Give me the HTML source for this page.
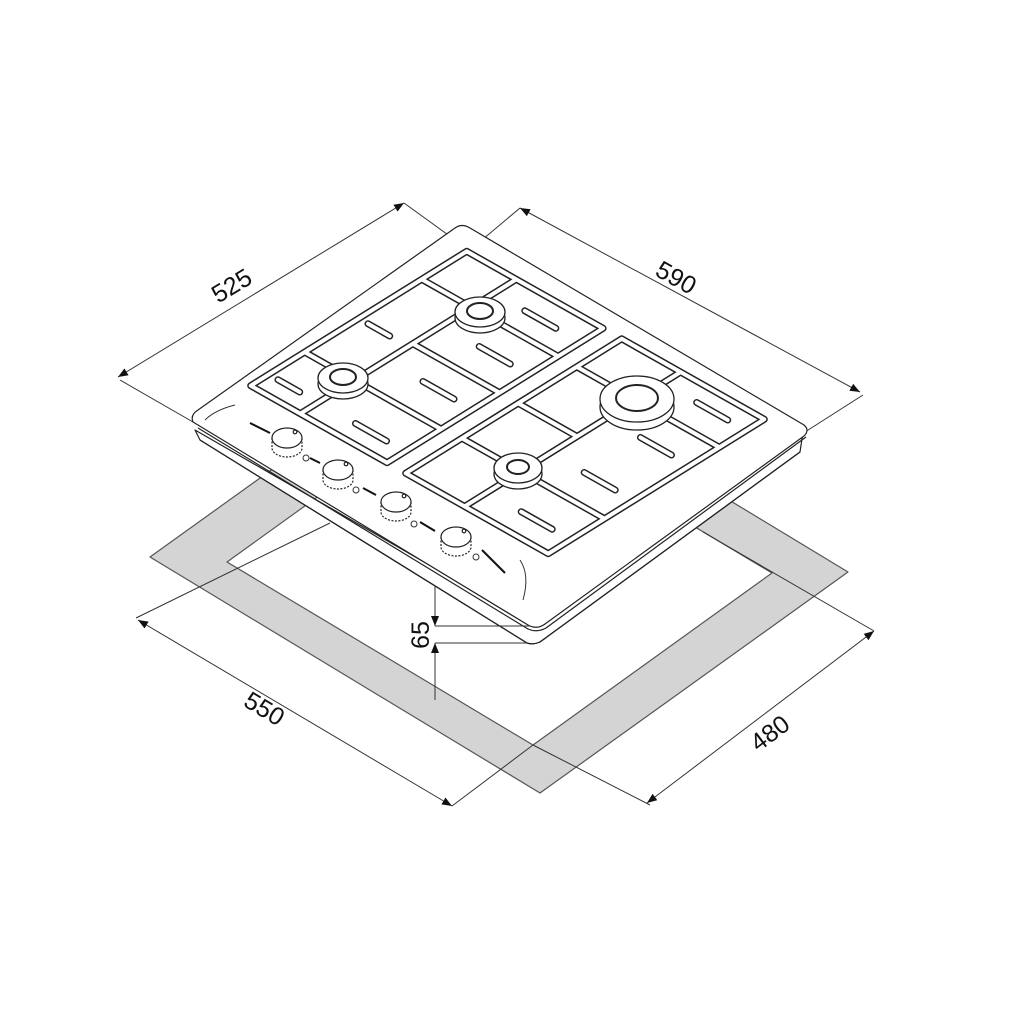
<!DOCTYPE html>
<html><head><meta charset="utf-8"><style>html,body{margin:0;padding:0;background:#fff}svg{display:block}</style></head>
<body>
<svg width="1024" height="1024" viewBox="0 0 1024 1024" xmlns="http://www.w3.org/2000/svg" font-family="Liberation Sans, Arial, sans-serif">
<defs>
<marker id="ar" viewBox="0 0 10 10" refX="10" refY="5" markerWidth="10" markerHeight="10" markerUnits="userSpaceOnUse" orient="auto-start-reverse"><path d="M0,1 L10,5 L0,9 z" fill="#111"/></marker>
</defs>
<rect width="1024" height="1024" fill="#fff"/>

<!-- cutout frame -->
<path fill-rule="evenodd" fill="#d4d4d4" stroke="#555" stroke-width="1.2" stroke-linejoin="round"
 d="M150,557 L458,336 L848,572 L540,793 Z M227,562 L466,390 L772,573 L533,745 Z"/>

<!-- dimension & extension lines -->
<g stroke="#333" stroke-width="1" fill="none">
 <line x1="118" y1="377" x2="404" y2="203" marker-start="url(#ar)" marker-end="url(#ar)"/>
 <line x1="520" y1="208" x2="860" y2="392" marker-start="url(#ar)" marker-end="url(#ar)"/>
 <line x1="138" y1="620" x2="452" y2="806" marker-start="url(#ar)" marker-end="url(#ar)"/>
 <line x1="647" y1="803" x2="874" y2="631" marker-start="url(#ar)" marker-end="url(#ar)"/>
 <line x1="404" y1="203" x2="480" y2="258"/>
 <line x1="520" y1="208" x2="470" y2="250"/>
 <line x1="120" y1="380" x2="193" y2="422"/>
 <line x1="805" y1="432" x2="863" y2="395"/>
 <line x1="136" y1="618" x2="330" y2="523"/>
 <line x1="452" y1="806" x2="533" y2="745"/>
 <line x1="533" y1="745" x2="650" y2="805"/>
 <line x1="703" y1="532" x2="874" y2="631"/>
 <line x1="435" y1="567" x2="435" y2="626" marker-end="url(#ar)"/>
 <line x1="435" y1="700" x2="435" y2="643" marker-end="url(#ar)"/>
</g>

<!-- hob body -->
<g stroke="#222" stroke-width="1.2" fill="#fff" stroke-linejoin="round">
 <path d="M195,430 L200,440 L527,643 Q533,645 540,642 L800,452 L803,432 L537,627 Z"/>
 <path d="M200,440 L527,643 Q533,645 540,642 L800,452" fill="none"/>
 <path d="M193,422 Q190,415 198,410 L455,228 Q462,223 470,228 L804,425 Q810,430 804,436 L545,624 Q537,630 528,625 Z"/>
 <path d="M198,428 L528,629 Q537,633 546,628 L806,437" fill="none"/>
</g>
<g stroke="#333" stroke-width="1" fill="none">
 <line x1="435" y1="626" x2="530" y2="626"/>
 <line x1="435" y1="643" x2="528" y2="643"/>
 <path d="M205,420 Q215,410 235,405"/>
 <path d="M520,560 Q530,575 523,600"/>
</g>
<!-- front strip dashes -->
<g stroke="#111" stroke-width="2" fill="none">
 <line x1="250" y1="423" x2="270" y2="433"/>
 <line x1="482" y1="550" x2="505" y2="573"/>
 <line x1="310" y1="458" x2="320" y2="463"/>
 <line x1="363" y1="488" x2="376" y2="495"/>
 <line x1="420" y1="522" x2="435" y2="531"/>
</g>

<!-- grates -->
<g transform="matrix(225,-140,310,175,240,385)" fill="none" stroke-linejoin="round" stroke-linecap="round">
 <g stroke="#222" stroke-width="7" vector-effect="non-scaling-stroke">
  <path vector-effect="non-scaling-stroke" d="M0.02,0.02 L0.98,0.02 L0.98,0.46 L0.02,0.46 Z M0.02,0.18 L0.98,0.18 M0.26,0.02 L0.26,0.46 M0.78,0.02 L0.78,0.46 M0.52,0.18 L0.52,0.46"/>
  <path vector-effect="non-scaling-stroke" d="M0.02,0.52 L0.98,0.52 L0.98,0.98 L0.02,0.98 Z M0.02,0.71 L0.98,0.71 M0.27,0.52 L0.27,0.98 M0.78,0.52 L0.78,0.98 M0.52,0.52 L0.52,0.71"/>
  <path vector-effect="non-scaling-stroke" d="M0.1,0.3 L0.1,0.4 M0.4,0.3 L0.4,0.4 M0.65,0.3 L0.65,0.4 M0.88,0.28 L0.88,0.38 M0.12,0.82 L0.12,0.92 M0.4,0.82 L0.4,0.92 M0.65,0.82 L0.65,0.92 M0.9,0.82 L0.9,0.92 M0.1,0.05 L0.1,0.12 M0.5,0.05 L0.5,0.12"/>
 </g>
 <g stroke="#fff" stroke-width="4">
  <path vector-effect="non-scaling-stroke" d="M0.02,0.02 L0.98,0.02 L0.98,0.46 L0.02,0.46 Z M0.02,0.18 L0.98,0.18 M0.26,0.02 L0.26,0.46 M0.78,0.02 L0.78,0.46 M0.52,0.18 L0.52,0.46"/>
  <path vector-effect="non-scaling-stroke" d="M0.02,0.52 L0.98,0.52 L0.98,0.98 L0.02,0.98 Z M0.02,0.71 L0.98,0.71 M0.27,0.52 L0.27,0.98 M0.78,0.52 L0.78,0.98 M0.52,0.52 L0.52,0.71"/>
  <path vector-effect="non-scaling-stroke" d="M0.1,0.3 L0.1,0.4 M0.4,0.3 L0.4,0.4 M0.65,0.3 L0.65,0.4 M0.88,0.28 L0.88,0.38 M0.12,0.82 L0.12,0.92 M0.4,0.82 L0.4,0.92 M0.65,0.82 L0.65,0.92 M0.9,0.82 L0.9,0.92 M0.1,0.05 L0.1,0.12 M0.5,0.05 L0.5,0.12"/>
 </g>
</g>

<!-- burners -->
<g stroke="#222" fill="#fff" stroke-width="1.3">
 <ellipse cx="343" cy="384" rx="25" ry="15"/><ellipse cx="343" cy="378" rx="25" ry="15"/><ellipse cx="343" cy="377" rx="13" ry="8" stroke-width="2"/>
 <ellipse cx="480" cy="318" rx="25" ry="15"/><ellipse cx="480" cy="312" rx="25" ry="15"/><ellipse cx="480" cy="311" rx="13" ry="8" stroke-width="2"/>
 <ellipse cx="637" cy="407" rx="37" ry="23"/><ellipse cx="637" cy="399" rx="37" ry="23"/><ellipse cx="637" cy="398" rx="21" ry="13" stroke-width="2"/>
 <ellipse cx="518" cy="474" rx="24" ry="15"/><ellipse cx="518" cy="468" rx="24" ry="15"/><ellipse cx="518" cy="467" rx="11" ry="7" stroke-width="2"/>
</g>

<!-- knobs -->
<g stroke="#222" fill="#fff" stroke-width="1.2">
 <g transform="translate(287,438)"><path d="M-15,0 L-15,10 A15,9 0 0 0 15,10 L15,0" stroke-dasharray="2 1.5"/><ellipse cx="0" cy="0" rx="15" ry="10"/><circle cx="8" cy="-6" r="1.8"/></g>
 <g transform="translate(338,470)"><path d="M-15,0 L-15,10 A15,9 0 0 0 15,10 L15,0" stroke-dasharray="2 1.5"/><ellipse cx="0" cy="0" rx="15" ry="10"/><circle cx="8" cy="-6" r="1.8"/></g>
 <g transform="translate(396,502)"><path d="M-15,0 L-15,10 A15,9 0 0 0 15,10 L15,0" stroke-dasharray="2 1.5"/><ellipse cx="0" cy="0" rx="15" ry="10"/><circle cx="8" cy="-6" r="1.8"/></g>
 <g transform="translate(456,537)"><path d="M-15,0 L-15,10 A15,9 0 0 0 15,10 L15,0" stroke-dasharray="2 1.5"/><ellipse cx="0" cy="0" rx="15" ry="10"/><circle cx="8" cy="-6" r="1.8"/></g>
</g>
<g fill="none" stroke="#333" stroke-width="1">
 <circle cx="306" cy="458" r="3"/><circle cx="356" cy="490" r="3"/><circle cx="414" cy="524" r="3"/><circle cx="476" cy="557" r="3"/>
</g>

<!-- labels -->
<g font-size="25" fill="#111" text-anchor="middle">
 <text transform="translate(236,293) rotate(-31)">525</text>
 <text transform="translate(672,285) rotate(29)">590</text>
 <text transform="translate(260,716) rotate(31)">550</text>
 <text transform="translate(775,740) rotate(-37)">480</text>
 <text transform="translate(429,635) rotate(-90)">65</text>
</g>
</svg>
</body></html>
